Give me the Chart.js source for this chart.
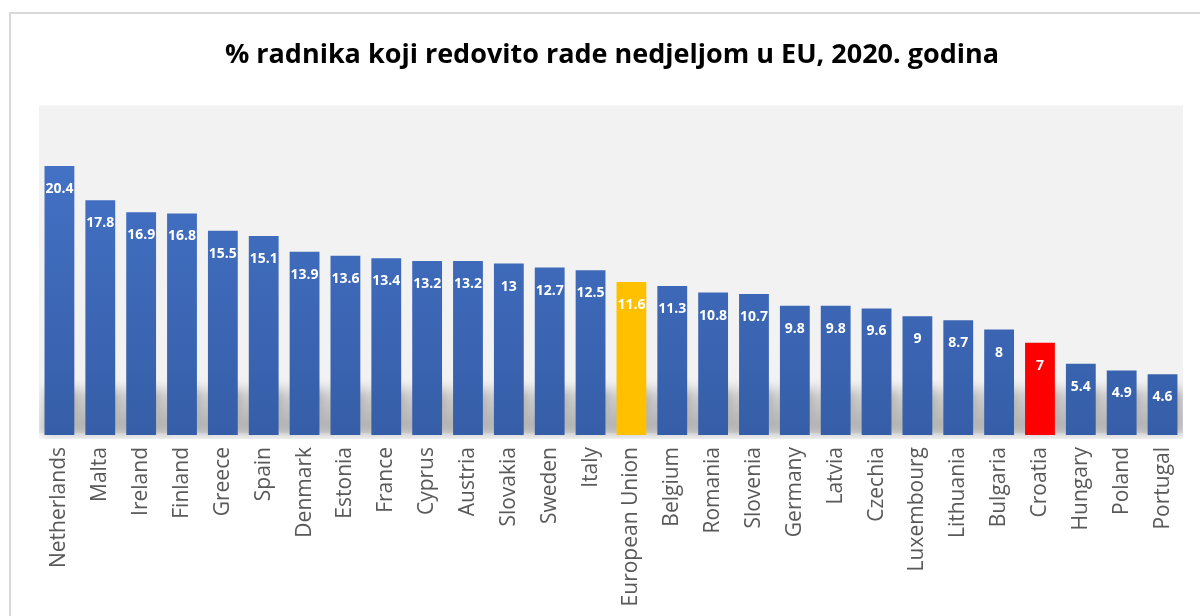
<!DOCTYPE html>
<html lang="hr">
<head>
  <meta charset="UTF-8">
  <title>% radnika koji redovito rade nedjeljom u EU, 2020.</title>
  <script src="https://cdn.jsdelivr.net/npm/chart.js@4/dist/chart.umd.min.js"></script>
  <style>
    html, body { margin: 0; padding: 0; background: #fff; }
    #wrap { width: 1200px; height: 616px; }
  </style>
</head>
<body>
  <div id="wrap"><canvas id="sundayChart" width="1200" height="616"></canvas></div>
  <script>
    const countries = ['Netherlands', 'Malta', 'Ireland', 'Finland', 'Greece', 'Spain', 'Denmark', 'Estonia',
      'France', 'Cyprus', 'Austria', 'Slovakia', 'Sweden', 'Italy', 'European Union', 'Belgium', 'Romania',
      'Slovenia', 'Germany', 'Latvia', 'Czechia', 'Luxembourg', 'Lithuania', 'Bulgaria', 'Croatia',
      'Hungary', 'Poland', 'Portugal'];
    const shares = [20.4, 17.8, 16.9, 16.8, 15.5, 15.1, 13.9, 13.6, 13.4, 13.2, 13.2, 13, 12.7, 12.5, 11.6,
      11.3, 10.8, 10.7, 9.8, 9.8, 9.6, 9, 8.7, 8, 7, 5.4, 4.9, 4.6];
    const highlight = { 'European Union': '#ffc000', 'Croatia': '#ff0000' };

    // frame + grey plot background
    const backdrop = {
      id: 'backdrop',
      beforeDraw(chart) {
        const { ctx, chartArea: a } = chart;
        ctx.save();
        ctx.strokeStyle = '#d9d9d9';
        ctx.lineWidth = 2;
        ctx.strokeRect(10, 13, 1300, 700);
        ctx.fillStyle = '#f2f2f2';
        ctx.fillRect(a.left, a.top, a.right - a.left, a.bottom - a.top - 2);
        ctx.restore();
      }
    };

    // soft shadow around the foot of the bars
    const barShadow = {
      id: 'barShadow',
      beforeDatasetsDraw(chart) {
        const { ctx, chartArea: a } = chart;
        const bars = chart.getDatasetMeta(0).data;
        ctx.save();
        ctx.beginPath();
        ctx.rect(a.left, a.top, a.right - a.left, a.bottom - a.top + 4);
        ctx.clip();
        ctx.filter = 'blur(6px)';
        ctx.fillStyle = 'rgba(0,0,0,0.26)';
        bars.forEach(b => {
          const half = b.width / 2;
          ctx.beginPath();
          ctx.moveTo(b.x - half - 4, b.base);
          ctx.lineTo(b.x - half + 2, b.base - 46);
          ctx.lineTo(b.x + half + 6, b.base - 46);
          ctx.lineTo(b.x + half + 10, b.base);
          ctx.closePath();
          ctx.fill();
        });
        ctx.restore();
      }
    };

    // value labels inside the bar tops
    const valueLabels = {
      id: 'valueLabels',
      afterDatasetsDraw(chart) {
        const { ctx } = chart;
        const bars = chart.getDatasetMeta(0).data;
        ctx.save();
        ctx.fillStyle = '#ffffff';
        ctx.font = 'bold 14px "Open Sans", sans-serif';
        ctx.textAlign = 'center';
        ctx.textBaseline = 'middle';
        bars.forEach((b, i) => {
          ctx.fillText(String(shares[i]), b.x, b.y + 23);
        });
        ctx.restore();
      }
    };

    function barColor(context) {
      const name = countries[context.dataIndex];
      if (highlight[name]) return highlight[name];
      const { chart } = context;
      const a = chart.chartArea;
      if (!a) return '#4472c4';
      const g = chart.ctx.createLinearGradient(0, a.top, 0, a.bottom);
      g.addColorStop(0, '#4675cb');
      g.addColorStop(1, '#365ea8');
      return g;
    }

    const ctx = document.getElementById('sundayChart').getContext('2d');
    new Chart(ctx, {
      type: 'bar',
      data: {
        labels: countries,
        datasets: [{
          data: shares,
          backgroundColor: barColor,
          borderWidth: 0,
          barPercentage: 0.73,
          categoryPercentage: 1
        }]
      },
      options: {
        responsive: false,
        animation: false,
        layout: { padding: { left: 39, right: 15, top: 0, bottom: 0 } },
        plugins: {
          legend: { display: false },
          tooltip: { enabled: false },
          title: {
            display: true,
            text: '% radnika koji redovito rade nedjeljom u EU, 2020. godina',
            color: '#000000',
            font: { family: '"Open Sans", sans-serif', size: 27, weight: 'bold', lineHeight: 1.2 },
            padding: { top: 39, bottom: 34 }
          }
        },
        scales: {
          y: {
            display: false,
            min: 0,
            max: 25
          },
          x: {
            grid: { display: false, drawTicks: false },
            border: { display: false },
            ticks: {
              color: '#595959',
              font: { family: '"Open Sans", sans-serif', size: 21 },
              minRotation: 90,
              maxRotation: 90,
              padding: 12,
              autoSkip: false
            },
            afterFit(scale) { scale.height = 616 - 435; }
          }
        }
      },
      plugins: [backdrop, barShadow, valueLabels]
    });
  </script>
</body>
</html>
